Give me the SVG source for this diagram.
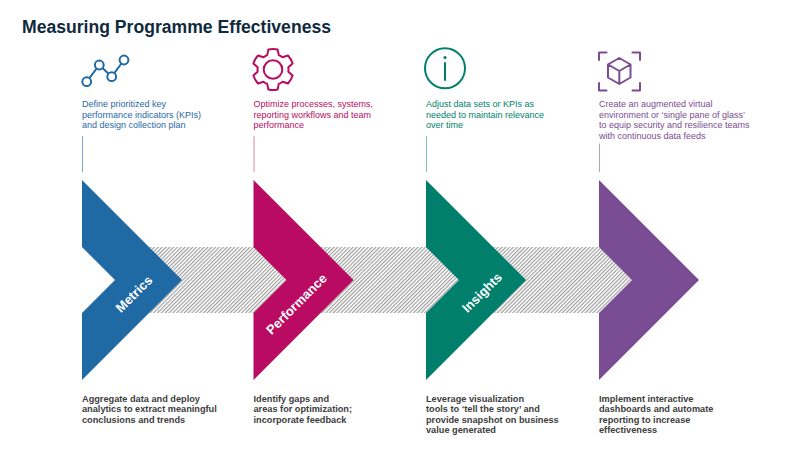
<svg xmlns="http://www.w3.org/2000/svg" width="800" height="450" viewBox="0 0 800 450">
<defs>
<pattern id="hatch" patternUnits="userSpaceOnUse" width="2.7" height="2.7" patternTransform="rotate(45)">
<line x1="0.6" y1="0" x2="0.6" y2="2.7" stroke="#8e8e8e" stroke-width="1"/>
</pattern>
<style>
.title{font-family:"Liberation Sans",Arial,sans-serif;font-weight:bold;font-size:17.6px;fill:#0f2a3d}
.top{font-family:"Liberation Sans",Arial,sans-serif;font-size:9px}
.bot{font-family:"Liberation Sans",Arial,sans-serif;font-size:9.2px;font-weight:bold;fill:#3d3d3d}
.lab{font-family:"Liberation Sans",Arial,sans-serif;font-size:13px;font-weight:bold;fill:#ffffff;text-anchor:middle;dominant-baseline:central}
.ico{fill:none;stroke-width:2;stroke-linejoin:round;stroke-linecap:round}
.blue{fill:#1f69a4}.mag{fill:#b90b62}.teal{fill:#007f6d}.pur{fill:#7a4c94}
</style>
</defs>
<rect width="800" height="450" fill="#ffffff"/>
<text class="title" x="22" y="33">Measuring Programme Effectiveness</text>

<g id="connectors">
<rect x="130" y="247" width="510" height="66" fill="url(#hatch)"/>
</g>

<g id="metrics">
<g class="ico" stroke="#1f69a4">
<line x1="86.7" y1="81.7" x2="99.3" y2="65"/>
<line x1="99.3" y1="65" x2="111.7" y2="76.7"/>
<line x1="111.7" y1="76.7" x2="124" y2="60"/>
<circle cx="86.7" cy="81.7" r="4.4" fill="#fff"/>
<circle cx="99.3" cy="65" r="4.4" fill="#fff"/>
<circle cx="111.7" cy="76.7" r="4.4" fill="#fff"/>
<circle cx="124" cy="60" r="4.4" fill="#fff"/>
</g>
<text class="top blue"><tspan x="82" y="107">Define prioritized key</tspan><tspan x="82" y="117.5">performance indicators (KPIs)</tspan><tspan x="82" y="128">and design collection plan</tspan></text>
<line x1="82.5" y1="136" x2="82.5" y2="172" stroke="#7aa6cf" stroke-width="1"/>
<path class="blue" d="M82,180 L182,280 L82,380 L82,313 L115,280 L82,247 Z"/>
<text class="lab" x="134" y="294" transform="rotate(-45 134 294)">Metrics</text>
<text class="bot"><tspan x="82" y="401.5">Aggregate data and deploy</tspan><tspan x="82" y="412">analytics to extract meaningful</tspan><tspan x="82" y="422.5">conclusions and trends</tspan></text>
</g>

<g id="performance">
<path class="ico" stroke="#b90b62" d="M267.19,55.13 L268.39,49.53 A20.5 20.5 0 0 1 277.61,49.53 L278.81,55.13 A15.5 15.5 0 0 1 282.54,57.29 L287.99,55.52 A20.5 20.5 0 0 1 292.6,63.51 L288.35,67.34 A15.5 15.5 0 0 1 288.35,71.66 L292.6,75.49 A20.5 20.5 0 0 1 287.99,83.48 L282.54,81.71 A15.5 15.5 0 0 1 278.81,83.87 L277.61,89.47 A20.5 20.5 0 0 1 268.39,89.47 L267.19,83.87 A15.5 15.5 0 0 1 263.46,81.71 L258.01,83.48 A20.5 20.5 0 0 1 253.4,75.49 L257.65,71.66 A15.5 15.5 0 0 1 257.65,67.34 L253.4,63.51 A20.5 20.5 0 0 1 258.01,55.52 L263.46,57.29 A15.5 15.5 0 0 1 267.19,55.13 Z"/>
<circle class="ico" stroke="#b90b62" cx="273" cy="69.5" r="9.3"/>
<text class="top mag"><tspan x="253.5" y="107">Optimize processes, systems,</tspan><tspan x="253.5" y="117.5">reporting workflows and team</tspan><tspan x="253.5" y="128">performance</tspan></text>
<line x1="254" y1="136" x2="254" y2="172" stroke="#de89b0" stroke-width="1"/>
<path class="mag" d="M253.5,180 L353.5,280 L253.5,380 L253.5,313 L286.5,280 L253.5,247 Z"/>
<text class="lab" x="296.5" y="304" transform="rotate(-45 296.5 304)">Performance</text>
<text class="bot"><tspan x="253.5" y="401.5">Identify gaps and</tspan><tspan x="253.5" y="412">areas for optimization;</tspan><tspan x="253.5" y="422.5">incorporate feedback</tspan></text>
</g>

<g id="insights">
<circle class="ico" stroke="#007f6d" cx="445" cy="68.3" r="20"/>
<line class="ico" stroke="#007f6d" x1="445" y1="63" x2="445" y2="80"/>
<circle fill="#007f6d" cx="445" cy="57.5" r="1.6"/>
<text class="top teal"><tspan x="426" y="107">Adjust data sets or KPIs as</tspan><tspan x="426" y="117.5">needed to maintain relevance</tspan><tspan x="426" y="128">over time</tspan></text>
<line x1="426.5" y1="136" x2="426.5" y2="172" stroke="#7cc2b4" stroke-width="1"/>
<path class="teal" d="M426,180 L526,280 L426,380 L426,313 L459,280 L426,247 Z"/>
<text class="lab" x="482" y="292.5" transform="rotate(-45 482 292.5)">Insights</text>
<text class="bot"><tspan x="426" y="401.5">Leverage visualization</tspan><tspan x="426" y="412">tools to ‘tell the story’ and</tspan><tspan x="426" y="422.5">provide snapshot on business</tspan><tspan x="426" y="433">value generated</tspan></text>
</g>

<g id="implement">
<g class="ico" stroke="#7a4c94" stroke-linecap="butt" stroke-linejoin="miter">
<path d="M599,60 V52.5 H606.5 M632.5,52.5 H640 V60 M640,83 V90.5 H632.5 M606.5,90.5 H599 V83"/>
<path stroke-linejoin="round" d="M619.3,58 L630.5,64.5 L630.5,77.5 L619.3,84 L608,77.5 L608,64.5 Z M608,64.5 L619.3,71 L630.5,64.5 M619.3,71 L619.3,84"/>
</g>
<text class="top pur"><tspan x="599" y="107">Create an augmented virtual</tspan><tspan x="599" y="117.5">environment or ‘single pane of glass’</tspan><tspan x="599" y="128">to equip security and resilience teams</tspan><tspan x="599" y="138.5">with continuous data feeds</tspan></text>
<line x1="599.5" y1="143.5" x2="599.5" y2="172" stroke="#b59cc6" stroke-width="1"/>
<path class="pur" d="M599,180 L699,280 L599,380 L599,313 L632,280 L599,247 Z"/>
<text class="bot"><tspan x="599" y="401.5">Implement interactive</tspan><tspan x="599" y="412">dashboards and automate</tspan><tspan x="599" y="422.5">reporting to increase</tspan><tspan x="599" y="433">effectiveness</tspan></text>
</g>
</svg>
